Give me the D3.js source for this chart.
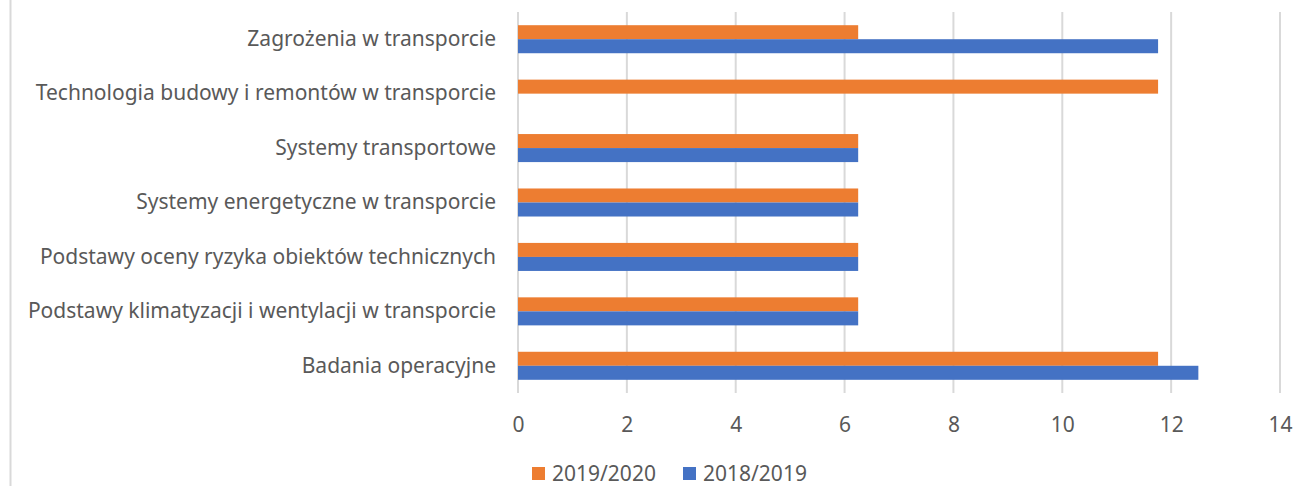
<!DOCTYPE html>
<html>
<head>
<meta charset="utf-8">
<title>Przedmioty 2018/2019 i 2019/2020</title>
<script src="https://cdn.jsdelivr.net/npm/d3@7"></script>
<style>
  body { margin: 0; background: #fff; }
  svg text { font-family: "Noto Sans", "Open Sans", sans-serif; fill: #595959; }
</style>
</head>
<body>
<div id="chart"></div>
<script>
// categories, bottom to top as in the picture
var categories = [
  'Badania operacyjne',
  'Podstawy klimatyzacji i wentylacji w transporcie',
  'Podstawy oceny ryzyka obiektów technicznych',
  'Systemy energetyczne w transporcie',
  'Systemy transportowe',
  'Technologia budowy i remontów w transporcie',
  'Zagrożenia w transporcie'
];
var series = ['2019/2020', '2018/2019'];
var values20192020 = [11.76, 6.25, 6.25, 6.25, 6.25, 11.76, 6.25];
var values20182019 = [12.5, 6.25, 6.25, 6.25, 6.25, 0, 11.76];
var xTicks = [0, 2, 4, 6, 8, 10, 12, 14];
var colors = ['#ED7D31', '#4472C4'];

var width = 1309, height = 486;
var plotLeft = 518, plotRight = 1280, plotTop = 12, plotBottom = 393;

var svg = d3.select('#chart').append('svg')
  .attr('width', width)
  .attr('height', height);

// light frame line on the left edge
svg.append('line')
  .attr('x1', 10.5).attr('x2', 10.5)
  .attr('y1', 0).attr('y2', height)
  .attr('stroke', '#d9d9d9').attr('stroke-width', 2);

var x = d3.scaleLinear().domain([0, 14]).range([plotLeft, plotRight]);

// top of the chart is the last category
var y = d3.scaleBand()
  .domain(categories.slice().reverse())
  .range([plotTop, plotBottom])
  .paddingInner(0.485)
  .paddingOuter(0.2425);

var sub = d3.scaleBand().domain(series).range([0, y.bandwidth()]);

// gridlines
svg.append('g').selectAll('line')
  .data(xTicks)
  .enter().append('line')
  .attr('x1', function(d) { return x(d); })
  .attr('x2', function(d) { return x(d); })
  .attr('y1', plotTop).attr('y2', plotBottom)
  .attr('stroke', '#d9d9d9').attr('stroke-width', 2);

// bars
var rows = categories.map(function(c, i) {
  return { cat: c, vals: [values20192020[i], values20182019[i]] };
});

var groups = svg.append('g').selectAll('g')
  .data(rows)
  .enter().append('g')
  .attr('transform', function(d) { return 'translate(0,' + y(d.cat) + ')'; });

groups.selectAll('rect')
  .data(function(d) { return d.vals.map(function(v, j) { return { s: series[j], v: v, j: j }; }); })
  .enter().append('rect')
  .attr('x', x(0))
  .attr('y', function(d) { return sub(d.s); })
  .attr('width', function(d) { return x(d.v) - x(0); })
  .attr('height', sub.bandwidth())
  .attr('fill', function(d) { return colors[d.j]; });

// category labels
var yAxis = d3.axisLeft(y).tickSize(0).tickPadding(22);
svg.append('g')
  .attr('transform', 'translate(' + plotLeft + ',0)')
  .call(yAxis)
  .call(function(g) { g.select('.domain').remove(); })
  .selectAll('text')
  .attr('font-family', null)
  .style('font-size', '21px');

// value axis labels
var xAxis = d3.axisBottom(x).tickValues(xTicks).tickSize(0).tickPadding(0);
svg.append('g')
  .attr('transform', 'translate(0,' + 417 + ')')
  .call(xAxis)
  .call(function(g) { g.select('.domain').remove(); })
  .selectAll('text')
  .attr('font-family', null)
  .style('font-size', '21px');

// legend
var legendItems = [{ s: '2019/2020', c: colors[0], x: 532 }, { s: '2018/2019', c: colors[1], x: 683 }];
var legend = svg.append('g').selectAll('g')
  .data(legendItems)
  .enter().append('g')
  .attr('transform', function(d) { return 'translate(' + d.x + ',467)'; });
legend.append('rect')
  .attr('width', 13).attr('height', 13)
  .attr('fill', function(d) { return d.c; });
legend.append('text')
  .attr('x', 20).attr('y', 14)
  .style('font-size', '21px')
  .text(function(d) { return d.s; });
</script>
</body>
</html>
